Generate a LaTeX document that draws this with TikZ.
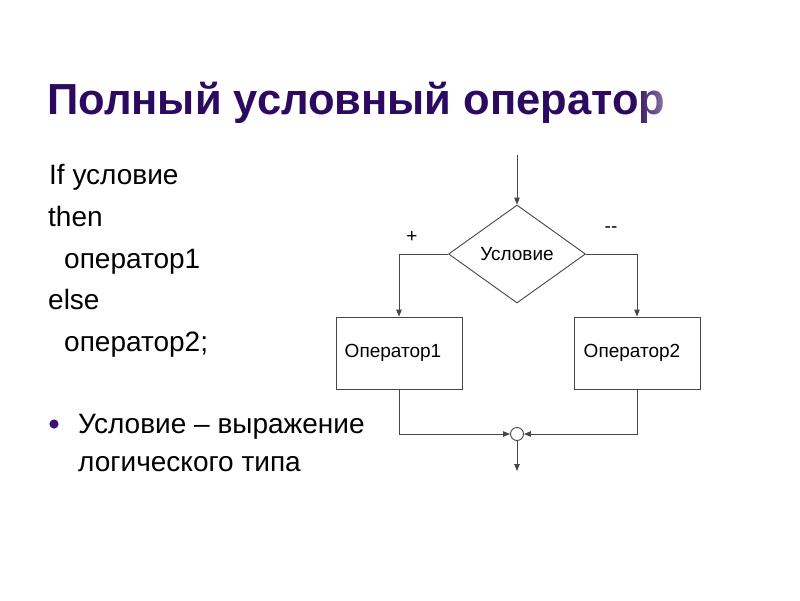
\documentclass[tikz,border=0pt]{standalone}
\usepackage{fontspec}
\usepackage{graphicx}
\setmainfont{Liberation Sans}
\usetikzlibrary{arrows.meta,shapes.geometric,fadings}
\definecolor{titlecol}{RGB}{44,10,96}
\definecolor{bulletcol}{RGB}{60,20,120}
\definecolor{linecol}{RGB}{70,70,70}
\tikzfading[name=titlefade, left color=transparent!100, right color=transparent!45]
\tikzset{
  body/.style={anchor=base west, inner sep=0pt, font=\fontsize{28}{32}\selectfont},
  flow/.style={draw=linecol, line width=0.9pt},
  arr/.style={flow, -{Triangle[length=7pt,width=5.5pt]}},
  blk/.style={draw=linecol, line width=0.9pt, rectangle, minimum width=126pt, minimum height=72pt, inner sep=0pt, font=\fontsize{19}{22}\selectfont},
  cond/.style={draw=linecol, line width=0.9pt, diamond, minimum width=137pt, minimum height=98pt, inner sep=0pt, font=\fontsize{19}{22}\selectfont},
  sign/.style={inner sep=0pt, font=\fontsize{19}{22}\selectfont},
  joint/.style={draw=linecol, line width=0.9pt, circle, minimum size=13pt, inner sep=0pt, fill=white}
}
\begin{document}
\begin{tikzpicture}[x=1pt,y=-1pt]
\useasboundingbox[fill=white] (0,0) rectangle (800,600);
% title
\node[anchor=base west, inner sep=0pt, text=titlecol, font=\fontsize{43.5}{48}\selectfont\bfseries] (title) at (47,114) {Полный условный оператор};
\fill[white, path fading=titlefade] (634,70) rectangle (672,132);
% left text
\node[body] (l1) at (49,184) {If условие};
\node[body] (l2) at (48,226) {then};
\node[body] (l3) at (64,268) {оператор1};
\node[body] (l4) at (48,309) {else};
\node[body] (l5) at (64,351) {оператор2;};
\fill[bulletcol] (54,424) circle (4.6pt);
\node[body] (b1) at (78,433) {Условие – выражение};
\node[body] (b2) at (78,471) {логического типа};
% flowchart
\coordinate (start) at (517,155);
\node[cond] (c) at (517,254) {\raisebox{-2pt}{Условие}};
\node[blk] (o1) at (399,353) {\raisebox{3pt}{Оператор1}\kern12pt};
\node[blk] (o2) at (637,353) {\raisebox{4pt}{Оператор2}\kern10pt};
\node[joint] (j) at (517,434) {};
\coordinate (end) at (517,471);
\node[sign] (plus) at (412,237) {+};
\node[sign] (minus) at (611,230) {{-}{-}};
\draw[arr] (start) -- (c.north);
\draw[arr] (c.west) -| (o1.north);
\draw[arr] (c.east) -| (o2.north);
\draw[arr] (o1.south) |- (j.west);
\draw[arr] (o2.south) |- (j.east);
\draw[arr] (j.south) -- (end);
\end{tikzpicture}
\end{document}
